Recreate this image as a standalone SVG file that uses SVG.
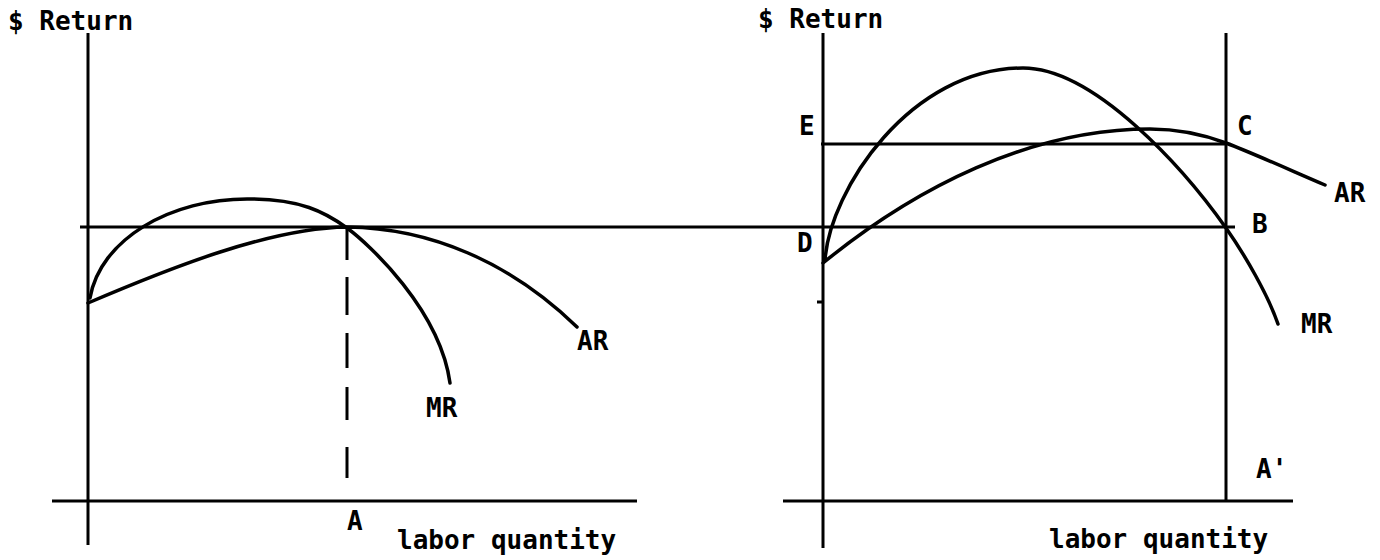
<svg xmlns="http://www.w3.org/2000/svg" width="1380" height="560" viewBox="0 0 1380 560">
<style>
.ax{stroke:#000;stroke-width:3;fill:none;stroke-linecap:butt}
.cv{stroke:#000;stroke-width:3.5;fill:none;stroke-linecap:round}
text{font-family:"DejaVu Sans Mono","Liberation Mono",monospace;font-size:26px;font-weight:bold;fill:#000}
</style>
<rect width="1380" height="560" fill="#fff"/>
<g id="left-graph">
  <g id="left-axes">
    <line class="ax" x1="88" y1="33" x2="88" y2="545"/>
    <line class="ax" x1="52" y1="501" x2="637" y2="501"/>
  </g>
  <g id="left-dashed">
    <line class="ax" x1="347" y1="228" x2="347" y2="260"/>
    <line class="ax" x1="347" y1="277" x2="347" y2="315"/>
    <line class="ax" x1="347" y1="333" x2="347" y2="368"/>
    <line class="ax" x1="347" y1="387" x2="347" y2="420"/>
    <line class="ax" x1="347" y1="447" x2="347" y2="478"/>
  </g>
  <g id="left-MR"><path class="cv" d="M90,298 C100,240 170,198 250,199 C300,199 325,212 347,228 C369,244 440,310 450,383"/></g>
  <g id="left-AR"><path class="cv" d="M88,303 C170,268 270,228 347,227 C430,228 510,262 577,327"/></g>
  <text x="8" y="30">$ Return</text>
  <text x="347" y="530">A</text>
  <text x="397" y="549">labor quantity</text>
  <text x="426" y="417">MR</text>
  <text x="577" y="350">AR</text>
</g>
<g id="shared-line">
  <line class="ax" x1="80" y1="227" x2="1235" y2="227"/>
</g>
<g id="right-graph">
  <g id="right-axes">
    <line class="ax" x1="823" y1="33" x2="823" y2="548"/>
    <line class="ax" x1="783" y1="501" x2="1293" y2="501"/>
    <line class="ax" x1="1226" y1="33" x2="1226" y2="501"/>
    <line class="ax" x1="821" y1="144" x2="1226" y2="144"/>
    <line class="ax" x1="817" y1="302" x2="823" y2="302"/>
  </g>
  <g id="right-MR"><path class="cv" d="M825,260 C830,190 910,68 1023,68 C1095,68 1185,170 1226,228 C1245,255 1268,295 1278,324"/></g>
  <g id="right-AR"><path class="cv" d="M823,263 C915,188 1030,129 1150,129 C1185,129 1210,137 1226,143 C1250,152 1290,170 1325,185"/></g>
  <text x="758" y="28">$ Return</text>
  <text x="799" y="135">E</text>
  <text x="797" y="252">D</text>
  <text x="1237" y="135">C</text>
  <text x="1252" y="233">B</text>
  <text x="1334" y="202">AR</text>
  <text x="1301" y="333">MR</text>
  <text x="1256" y="478">A'</text>
  <text x="1049" y="548">labor quantity</text>
</g>
</svg>
